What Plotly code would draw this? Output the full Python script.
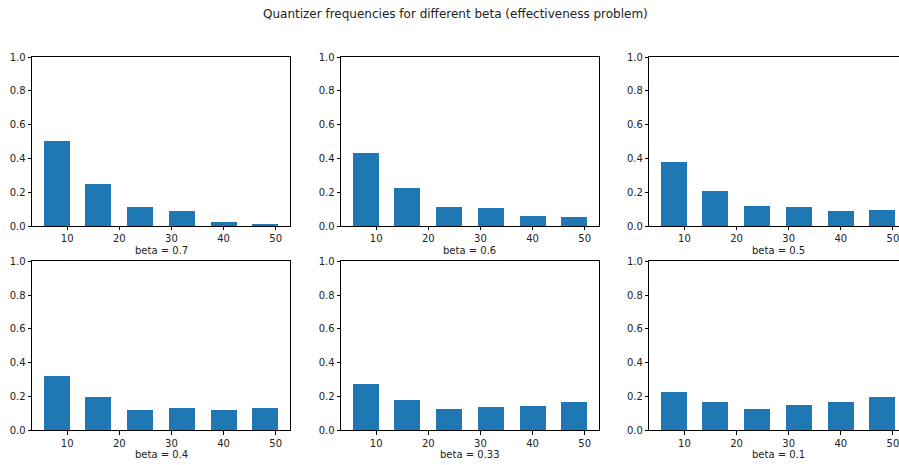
import plotly.graph_objects as go

W, H = 899, 465

# ---- data ----
bins = [8, 16, 24, 32, 40, 48]
betas = ["0.7", "0.6", "0.5", "0.4", "0.33", "0.1"]
freq_07 = [0.505, 0.249, 0.110, 0.087, 0.024, 0.014]
freq_06 = [0.434, 0.227, 0.110, 0.105, 0.059, 0.053]
freq_05 = [0.379, 0.209, 0.116, 0.110, 0.087, 0.093]
freq_04 = [0.320, 0.193, 0.118, 0.130, 0.118, 0.130]
freq_033 = [0.274, 0.179, 0.124, 0.136, 0.142, 0.164]
freq_01 = [0.227, 0.164, 0.124, 0.148, 0.164, 0.193]
x_ticks = [10, 20, 30, 40, 50]
y_ticks = [0.0, 0.2, 0.4, 0.6, 0.8, 1.0]
title = "Quantizer frequencies for different beta (effectiveness problem)"

series = [freq_07, freq_06, freq_05, freq_04, freq_033, freq_01]

# ---- layout geometry (pixels) ----
panel_w = 258.0
lefts = [32.0, 341.0, 649.3]
tops = [57.0, 261.3]
panel_h = 169.0
xr_full = [3.25, 52.75]
px_per_unit = panel_w / (xr_full[1] - xr_full[0])

fig = go.Figure()
font_family = "DejaVu Sans, sans-serif"

annotations = []
for i, vals in enumerate(series):
    r, c = divmod(i, 3)
    n = i + 1
    xa = "x" if n == 1 else f"x{n}"
    ya = "y" if n == 1 else f"y{n}"
    fig.add_trace(go.Bar(x=bins, y=vals, width=5, marker=dict(color="#1f77b4", line=dict(width=0)),
                         xaxis=xa, yaxis=ya, showlegend=False))
    left = lefts[c]
    right = left + panel_w
    xr = list(xr_full)
    clipped = False
    if right > W:
        xr[1] = xr_full[0] + (W - left) / px_per_unit
        right = W
        clipped = True
    top = tops[r]
    bottom = top + panel_h
    xkey = "xaxis" if n == 1 else f"xaxis{n}"
    ykey = "yaxis" if n == 1 else f"yaxis{n}"
    fig.layout[xkey] = dict(domain=[left / W, right / W], range=xr, anchor=ya, automargin=False,
                            ticklabeloverflow="allow",
                            tickvals=x_ticks, ticks="outside", ticklen=3.5, tickwidth=0.8,
                            tickcolor="#000", showline=True, linecolor="#000", linewidth=0.8,
                            mirror=True, showgrid=False, zeroline=False,
                            tickfont=dict(size=10, color="#222", family=font_family))
    fig.layout[ykey] = dict(domain=[1 - bottom / H, 1 - top / H], range=[0, 1], anchor=xa,
                            automargin=False, ticklabeloverflow="allow",
                            tickvals=y_ticks, tickformat=".1f", ticks="outside", ticklen=3.5,
                            tickwidth=0.8, tickcolor="#000", showline=True, linecolor="#000",
                            linewidth=0.8, mirror=(not clipped), showgrid=False, zeroline=False,
                            tickfont=dict(size=10, color="#222", family=font_family))
    cx = left + panel_w / 2
    annotations.append(dict(text=f"beta = {betas[i]}", x=cx / W, y=1 - (bottom + 24.5) / H,
                            xref="paper", yref="paper", xanchor="center", yanchor="middle",
                            showarrow=False, font=dict(size=10, color="#222", family=font_family)))

annotations.append(dict(text=title, x=455 / W, y=1 - 13.5 / H, xref="paper", yref="paper",
                        xanchor="center", yanchor="middle", showarrow=False,
                        font=dict(size=12, color="#222", family=font_family)))

fig.update_layout(width=W, height=H, margin=dict(l=0, r=0, t=0, b=0, autoexpand=False),
                  paper_bgcolor="white", plot_bgcolor="white",
                  annotations=annotations, bargap=0)

fig.write_html("out.html")
